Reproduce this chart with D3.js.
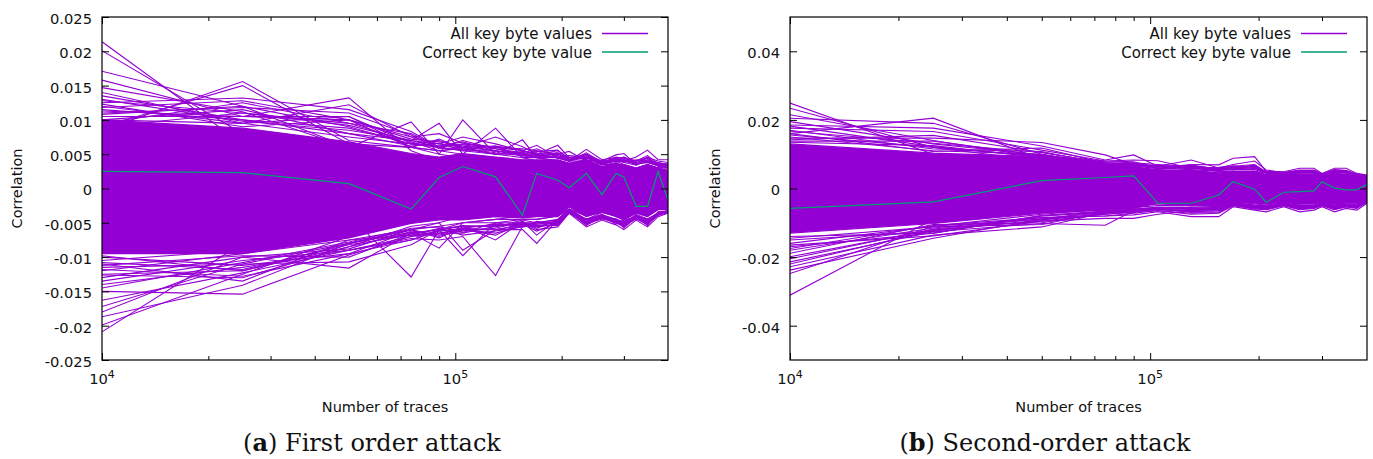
<!DOCTYPE html>
<html>
<head>
<meta charset="utf-8">
<script src="https://cdn.jsdelivr.net/npm/d3@7"></script>
<style>
  body { margin: 0; background: #fff; }
  svg text { font-family: "DejaVu Sans", sans-serif; fill: #111; }
</style>
</head>
<body>
<svg id="fig" width="1373" height="459"></svg>
<script>
// Number of traces at which the correlation was evaluated
const traceCounts = [10000, 25000, 50000, 75000, 90000, 105000, 130000, 155000, 170000, 195000,
                     210000, 235000, 260000, 285000, 300000, 325000, 350000, 375000, 400000];

// ---------- (a) first order attack ----------
// upper / lower edge of the dense bundle of key guesses
const firstDenseHigh = [0.0100, 0.0088, 0.0068, 0.0051, 0.0046, 0.0051, 0.0046, 0.0042, 0.0042, 0.0042,
                        0.0037, 0.0042, 0.0032, 0.0037, 0.0034, 0.0029, 0.0034, 0.0029, 0.0027];
const firstDenseLow  = [-0.0095, -0.0095, -0.0072, -0.0051, -0.0046, -0.0046, -0.0041, -0.0043, -0.0041, -0.0041,
                        -0.0027, -0.0041, -0.0034, -0.0041, -0.0046, -0.0036, -0.0041, -0.0031, -0.0031];
// key guesses that leave the bundle
const firstKeyCurves = [
  [0.0214, 0.0065, 0.0045, 0.0030, 0.0025, 0.0030, 0.0020, 0.0025, 0.0020, 0.0015, 0.0020, 0.0015, 0.0020, 0.0015, 0.0010, 0.0020, 0.0015, 0.0010, 0.0015],
  [0.0201, 0.0080, 0.0050, 0.0040, 0.0030, 0.0020, 0.0030, 0.0020, 0.0025, 0.0030, 0.0020, 0.0025, 0.0020, 0.0020, 0.0025, 0.0020, 0.0020, 0.0015, 0.0020],
  [0.0171, 0.0120, 0.0060, 0.0045, 0.0030, 0.0040, 0.0030, 0.0030, 0.0025, 0.0020, 0.0025, 0.0020, 0.0025, 0.0030, 0.0020, 0.0025, 0.0020, 0.0020, 0.0020],
  [0.0158, 0.0105, 0.0132, 0.0055, 0.0040, 0.0035, 0.0040, 0.0030, 0.0035, 0.0030, 0.0025, 0.0030, 0.0025, 0.0020, 0.0030, 0.0020, 0.0025, 0.0020, 0.0020],
  [0.0147, 0.0112, 0.0060, 0.0097, 0.0050, 0.0045, 0.0035, 0.0040, 0.0030, 0.0035, 0.0030, 0.0030, 0.0025, 0.0030, 0.0025, 0.0020, 0.0030, 0.0025, 0.0020],
  [0.0130, 0.0098, 0.0085, 0.0070, 0.0095, 0.0050, 0.0045, 0.0035, 0.0040, 0.0030, 0.0035, 0.0030, 0.0025, 0.0030, 0.0030, 0.0025, 0.0030, 0.0020, 0.0025],
  [0.0085, 0.0156, 0.0070, 0.0060, 0.0050, 0.0100, 0.0050, 0.0045, 0.0040, 0.0035, 0.0035, 0.0035, 0.0030, 0.0030, 0.0035, 0.0025, 0.0030, 0.0025, 0.0025],
  [0.0090, 0.0150, 0.0065, 0.0060, 0.0055, 0.0050, 0.0088, 0.0045, 0.0045, 0.0040, 0.0035, 0.0035, 0.0030, 0.0035, 0.0030, 0.0030, 0.0030, 0.0025, 0.0025],
  [0.0125, 0.0132, 0.0115, 0.0083, 0.0060, 0.0055, 0.0050, 0.0071, 0.0045, 0.0040, 0.0035, 0.0040, 0.0030, 0.0035, 0.0030, 0.0030, 0.0035, 0.0030, 0.0025],
  [0.0120, 0.0095, 0.0122, 0.0075, 0.0080, 0.0066, 0.0060, 0.0055, 0.0063, 0.0045, 0.0040, 0.0040, 0.0035, 0.0035, 0.0035, 0.0030, 0.0035, 0.0030, 0.0030],
  [0.0113, 0.0105, 0.0105, 0.0060, 0.0055, 0.0060, 0.0075, 0.0061, 0.0050, 0.0063, 0.0045, 0.0045, 0.0035, 0.0040, 0.0035, 0.0030, 0.0035, 0.0030, 0.0030],
  [0.0108, 0.0120, 0.0090, 0.0065, 0.0060, 0.0055, 0.0055, 0.0050, 0.0055, 0.0050, 0.0054, 0.0040, 0.0040, 0.0049, 0.0051, 0.0035, 0.0040, 0.0035, 0.0030],
  [0.0100, 0.0115, 0.0080, 0.0070, 0.0065, 0.0060, 0.0050, 0.0050, 0.0050, 0.0045, 0.0040, 0.0057, 0.0042, 0.0045, 0.0040, 0.0046, 0.0056, 0.0042, 0.0042],
  [0.0105, 0.0105, 0.0100, 0.0075, 0.0065, 0.0075, 0.0065, 0.0055, 0.0050, 0.0055, 0.0045, 0.0050, 0.0040, 0.0040, 0.0045, 0.0040, 0.0045, 0.0040, 0.0038],
  [0.0140, 0.0095, 0.0075, 0.0065, 0.0070, 0.0060, 0.0055, 0.0050, 0.0045, 0.0045, 0.0045, 0.0045, 0.0038, 0.0042, 0.0040, 0.0038, 0.0040, 0.0038, 0.0035],
  [0.0095, 0.0125, 0.0095, 0.0080, 0.0060, 0.0065, 0.0060, 0.0058, 0.0055, 0.0050, 0.0042, 0.0048, 0.0038, 0.0045, 0.0045, 0.0040, 0.0048, 0.0036, 0.0036],
  [0.0128, 0.0110, 0.0095, 0.0068, 0.0055, 0.0058, 0.0052, 0.0048, 0.0046, 0.0048, 0.0040, 0.0046, 0.0036, 0.0042, 0.0038, 0.0034, 0.0040, 0.0034, 0.0032],
  [0.0118, 0.0128, 0.0100, 0.0072, 0.0068, 0.0062, 0.0058, 0.0052, 0.0058, 0.0046, 0.0044, 0.0044, 0.0040, 0.0040, 0.0042, 0.0036, 0.0038, 0.0033, 0.0031],
  [0.0135, 0.0100, 0.0088, 0.0065, 0.0062, 0.0068, 0.0055, 0.0048, 0.0050, 0.0052, 0.0042, 0.0048, 0.0036, 0.0044, 0.0040, 0.0035, 0.0042, 0.0035, 0.0033],
  [0.0110, 0.0118, 0.0110, 0.0078, 0.0058, 0.0060, 0.0062, 0.0056, 0.0048, 0.0050, 0.0046, 0.0042, 0.0038, 0.0046, 0.0044, 0.0038, 0.0044, 0.0036, 0.0034],
  [0.0123, 0.0090, 0.0100, 0.0060, 0.0072, 0.0058, 0.0050, 0.0054, 0.0052, 0.0044, 0.0040, 0.0050, 0.0036, 0.0040, 0.0046, 0.0034, 0.0046, 0.0032, 0.0032],
  [0.0090, 0.0110, 0.0092, 0.0070, 0.0060, 0.0070, 0.0058, 0.0050, 0.0054, 0.0056, 0.0042, 0.0044, 0.0040, 0.0042, 0.0038, 0.0042, 0.0040, 0.0038, 0.0034],
  [0.0115, 0.0100, 0.0080, 0.0062, 0.0066, 0.0056, 0.0062, 0.0046, 0.0048, 0.0046, 0.0048, 0.0046, 0.0034, 0.0038, 0.0042, 0.0036, 0.0038, 0.0034, 0.0030],
  [0.0100, 0.0095, 0.0105, 0.0066, 0.0062, 0.0064, 0.0054, 0.0052, 0.0046, 0.0052, 0.0040, 0.0052, 0.0038, 0.0040, 0.0040, 0.0040, 0.0044, 0.0035, 0.0033],
  [-0.0209, -0.0080, -0.0060, -0.0045, -0.0040, -0.0035, -0.0030, -0.0030, -0.0025, -0.0030, -0.0020, -0.0025, -0.0020, -0.0025, -0.0030, -0.0020, -0.0025, -0.0020, -0.0020],
  [-0.0199, -0.0125, -0.0070, -0.0050, -0.0040, -0.0045, -0.0035, -0.0030, -0.0035, -0.0030, -0.0020, -0.0030, -0.0025, -0.0030, -0.0025, -0.0025, -0.0030, -0.0020, -0.0020],
  [-0.0187, -0.0141, -0.0080, -0.0060, -0.0050, -0.0040, -0.0040, -0.0035, -0.0030, -0.0030, -0.0025, -0.0030, -0.0025, -0.0030, -0.0030, -0.0025, -0.0030, -0.0025, -0.0025],
  [-0.0180, -0.0100, -0.0116, -0.0065, -0.0087, -0.0050, -0.0045, -0.0040, -0.0040, -0.0035, -0.0025, -0.0035, -0.0030, -0.0035, -0.0035, -0.0030, -0.0035, -0.0025, -0.0025],
  [-0.0172, -0.0110, -0.0107, -0.0082, -0.0060, -0.0098, -0.0050, -0.0045, -0.0045, -0.0040, -0.0030, -0.0040, -0.0030, -0.0035, -0.0035, -0.0030, -0.0035, -0.0030, -0.0025],
  [-0.0163, -0.0123, -0.0090, -0.0073, -0.0075, -0.0070, -0.0127, -0.0055, -0.0050, -0.0045, -0.0030, -0.0040, -0.0035, -0.0040, -0.0040, -0.0035, -0.0040, -0.0030, -0.0030],
  [-0.0150, -0.0154, -0.0097, -0.0070, -0.0065, -0.0060, -0.0060, -0.0060, -0.0080, -0.0045, -0.0030, -0.0045, -0.0035, -0.0040, -0.0040, -0.0035, -0.0040, -0.0030, -0.0030],
  [-0.0126, -0.0130, -0.0085, -0.0065, -0.0060, -0.0055, -0.0055, -0.0050, -0.0060, -0.0056, -0.0036, -0.0056, -0.0046, -0.0053, -0.0060, -0.0046, -0.0056, -0.0041, -0.0036],
  [-0.0115, -0.0110, -0.0080, -0.0060, -0.0055, -0.0050, -0.0050, -0.0050, -0.0050, -0.0050, -0.0033, -0.0050, -0.0040, -0.0048, -0.0052, -0.0042, -0.0050, -0.0038, -0.0034],
  [-0.0105, -0.0090, -0.0039, -0.0129, -0.0060, -0.0050, -0.0045, -0.0045, -0.0045, -0.0040, -0.0030, -0.0045, -0.0038, -0.0045, -0.0048, -0.0040, -0.0045, -0.0035, -0.0033],
  [-0.0098, -0.0120, -0.0085, -0.0055, -0.0050, -0.0090, -0.0060, -0.0052, -0.0055, -0.0048, -0.0035, -0.0048, -0.0042, -0.0050, -0.0055, -0.0044, -0.0052, -0.0038, -0.0034],
  [-0.0120, -0.0095, -0.0075, -0.0060, -0.0070, -0.0060, -0.0065, -0.0055, -0.0052, -0.0050, -0.0034, -0.0052, -0.0044, -0.0050, -0.0056, -0.0043, -0.0050, -0.0039, -0.0035],
  [-0.0135, -0.0105, -0.0090, -0.0075, -0.0060, -0.0055, -0.0075, -0.0048, -0.0068, -0.0045, -0.0032, -0.0046, -0.0040, -0.0046, -0.0050, -0.0040, -0.0046, -0.0036, -0.0033],
  [-0.0110, -0.0135, -0.0075, -0.0068, -0.0065, -0.0065, -0.0055, -0.0050, -0.0055, -0.0052, -0.0034, -0.0050, -0.0042, -0.0048, -0.0054, -0.0042, -0.0048, -0.0038, -0.0034],
  [-0.0140, -0.0115, -0.0090, -0.0070, -0.0062, -0.0058, -0.0052, -0.0054, -0.0050, -0.0048, -0.0034, -0.0048, -0.0040, -0.0048, -0.0050, -0.0040, -0.0048, -0.0036, -0.0034],
  [-0.0118, -0.0128, -0.0095, -0.0062, -0.0068, -0.0062, -0.0058, -0.0048, -0.0058, -0.0046, -0.0036, -0.0046, -0.0044, -0.0046, -0.0052, -0.0044, -0.0046, -0.0038, -0.0035],
  [-0.0108, -0.0118, -0.0082, -0.0068, -0.0058, -0.0068, -0.0062, -0.0056, -0.0048, -0.0052, -0.0032, -0.0052, -0.0038, -0.0050, -0.0048, -0.0040, -0.0052, -0.0035, -0.0033],
  [-0.0130, -0.0100, -0.0088, -0.0060, -0.0072, -0.0056, -0.0054, -0.0052, -0.0062, -0.0050, -0.0035, -0.0044, -0.0042, -0.0044, -0.0054, -0.0038, -0.0044, -0.0037, -0.0034],
  [-0.0100, -0.0112, -0.0095, -0.0075, -0.0062, -0.0060, -0.0068, -0.0050, -0.0052, -0.0048, -0.0033, -0.0054, -0.0040, -0.0052, -0.0046, -0.0042, -0.0054, -0.0034, -0.0033],
  [-0.0145, -0.0108, -0.0078, -0.0058, -0.0056, -0.0064, -0.0050, -0.0056, -0.0054, -0.0054, -0.0034, -0.0050, -0.0044, -0.0044, -0.0058, -0.0041, -0.0050, -0.0036, -0.0035],
  [-0.0112, -0.0098, -0.0100, -0.0066, -0.0060, -0.0054, -0.0056, -0.0046, -0.0050, -0.0046, -0.0031, -0.0046, -0.0038, -0.0048, -0.0050, -0.0038, -0.0048, -0.0037, -0.0032],
  [-0.0125, -0.0120, -0.0080, -0.0064, -0.0066, -0.0058, -0.0060, -0.0054, -0.0056, -0.0052, -0.0035, -0.0052, -0.0042, -0.0050, -0.0052, -0.0044, -0.0052, -0.0039, -0.0034]
];
const firstCorrectKey = [0.0025, 0.0023, 0.0007, -0.0030, 0.0016, 0.0032, 0.0017, -0.0039, 0.0022, 0.0012,
                         0.0001, 0.0022, -0.0009, 0.0022, 0.0017, -0.0026, -0.0026, 0.0025, -0.0017];
const firstTickValues = [-0.025, -0.02, -0.015, -0.01, -0.005, 0, 0.005, 0.01, 0.015, 0.02, 0.025];
const firstTickLabels = ["-0.025", "-0.02", "-0.015", "-0.01", "-0.005", "0", "0.005", "0.01", "0.015", "0.02", "0.025"];

// ---------- (b) second-order attack ----------
const secondDenseHigh = [0.0130, 0.0103, 0.0093, 0.0069, 0.0064, 0.0054, 0.0054, 0.0045, 0.0050, 0.0050,
                         0.0040, 0.0040, 0.0042, 0.0042, 0.0036, 0.0042, 0.0042, 0.0036, 0.0034];
const secondDenseLow  = [-0.0130, -0.0102, -0.0072, -0.0063, -0.0058, -0.0043, -0.0050, -0.0050, -0.0040, -0.0043,
                         -0.0045, -0.0040, -0.0045, -0.0043, -0.0040, -0.0045, -0.0042, -0.0042, -0.0036];
const secondKeyCurves = [
  [0.0249, 0.0100, 0.0070, 0.0050, 0.0040, 0.0030, 0.0035, 0.0030, 0.0025, 0.0030, 0.0025, 0.0020, 0.0025, 0.0020, 0.0020, 0.0025, 0.0020, 0.0020, 0.0020],
  [0.0234, 0.0120, 0.0080, 0.0060, 0.0050, 0.0040, 0.0040, 0.0035, 0.0030, 0.0035, 0.0030, 0.0025, 0.0030, 0.0025, 0.0025, 0.0030, 0.0025, 0.0025, 0.0020],
  [0.0215, 0.0140, 0.0090, 0.0065, 0.0055, 0.0045, 0.0045, 0.0040, 0.0035, 0.0040, 0.0030, 0.0030, 0.0035, 0.0030, 0.0030, 0.0030, 0.0030, 0.0025, 0.0025],
  [0.0205, 0.0190, 0.0100, 0.0070, 0.0060, 0.0050, 0.0050, 0.0045, 0.0040, 0.0045, 0.0035, 0.0035, 0.0035, 0.0035, 0.0030, 0.0035, 0.0035, 0.0030, 0.0028],
  [0.0160, 0.0205, 0.0085, 0.0075, 0.0060, 0.0055, 0.0050, 0.0045, 0.0045, 0.0045, 0.0040, 0.0035, 0.0040, 0.0040, 0.0035, 0.0040, 0.0035, 0.0030, 0.0030],
  [0.0147, 0.0147, 0.0134, 0.0098, 0.0070, 0.0060, 0.0055, 0.0050, 0.0045, 0.0050, 0.0040, 0.0040, 0.0040, 0.0040, 0.0035, 0.0040, 0.0040, 0.0035, 0.0030],
  [0.0185, 0.0176, 0.0124, 0.0083, 0.0098, 0.0065, 0.0060, 0.0050, 0.0050, 0.0050, 0.0045, 0.0040, 0.0045, 0.0045, 0.0038, 0.0045, 0.0040, 0.0035, 0.0032],
  [0.0176, 0.0166, 0.0112, 0.0080, 0.0083, 0.0081, 0.0060, 0.0055, 0.0055, 0.0055, 0.0045, 0.0045, 0.0045, 0.0045, 0.0040, 0.0045, 0.0045, 0.0038, 0.0034],
  [0.0167, 0.0132, 0.0105, 0.0075, 0.0070, 0.0065, 0.0083, 0.0060, 0.0060, 0.0060, 0.0048, 0.0045, 0.0050, 0.0050, 0.0040, 0.0050, 0.0045, 0.0040, 0.0034],
  [0.0156, 0.0120, 0.0095, 0.0072, 0.0068, 0.0060, 0.0070, 0.0069, 0.0088, 0.0093, 0.0050, 0.0049, 0.0059, 0.0059, 0.0044, 0.0059, 0.0059, 0.0044, 0.0039],
  [0.0150, 0.0110, 0.0100, 0.0070, 0.0065, 0.0065, 0.0060, 0.0060, 0.0070, 0.0080, 0.0054, 0.0046, 0.0052, 0.0054, 0.0042, 0.0055, 0.0052, 0.0041, 0.0037],
  [0.0135, 0.0125, 0.0090, 0.0078, 0.0075, 0.0070, 0.0065, 0.0058, 0.0065, 0.0070, 0.0048, 0.0044, 0.0050, 0.0050, 0.0040, 0.0050, 0.0050, 0.0040, 0.0036],
  [0.0195, 0.0130, 0.0098, 0.0072, 0.0066, 0.0058, 0.0062, 0.0052, 0.0056, 0.0058, 0.0046, 0.0042, 0.0048, 0.0046, 0.0038, 0.0046, 0.0048, 0.0038, 0.0035],
  [0.0142, 0.0155, 0.0105, 0.0075, 0.0072, 0.0062, 0.0058, 0.0056, 0.0062, 0.0064, 0.0044, 0.0044, 0.0046, 0.0048, 0.0040, 0.0048, 0.0046, 0.0040, 0.0036],
  [0.0170, 0.0115, 0.0108, 0.0070, 0.0068, 0.0066, 0.0064, 0.0054, 0.0058, 0.0062, 0.0048, 0.0043, 0.0050, 0.0052, 0.0039, 0.0052, 0.0050, 0.0039, 0.0035],
  [0.0138, 0.0138, 0.0096, 0.0080, 0.0078, 0.0060, 0.0068, 0.0056, 0.0054, 0.0066, 0.0046, 0.0045, 0.0048, 0.0050, 0.0041, 0.0050, 0.0048, 0.0041, 0.0036],
  [0.0160, 0.0108, 0.0118, 0.0074, 0.0070, 0.0068, 0.0060, 0.0062, 0.0066, 0.0060, 0.0050, 0.0047, 0.0054, 0.0052, 0.0042, 0.0054, 0.0052, 0.0042, 0.0037],
  [0.0182, 0.0122, 0.0092, 0.0068, 0.0074, 0.0064, 0.0066, 0.0058, 0.0060, 0.0068, 0.0046, 0.0042, 0.0046, 0.0050, 0.0040, 0.0046, 0.0050, 0.0039, 0.0035],
  [-0.0311, -0.0090, -0.0070, -0.0055, -0.0045, -0.0040, -0.0045, -0.0040, -0.0030, -0.0035, -0.0035, -0.0030, -0.0035, -0.0035, -0.0030, -0.0035, -0.0030, -0.0030, -0.0025],
  [-0.0248, -0.0110, -0.0075, -0.0060, -0.0050, -0.0045, -0.0050, -0.0045, -0.0035, -0.0040, -0.0040, -0.0035, -0.0040, -0.0040, -0.0035, -0.0040, -0.0035, -0.0035, -0.0030],
  [-0.0238, -0.0145, -0.0090, -0.0065, -0.0055, -0.0050, -0.0050, -0.0050, -0.0038, -0.0045, -0.0042, -0.0038, -0.0042, -0.0042, -0.0038, -0.0042, -0.0038, -0.0038, -0.0032],
  [-0.0228, -0.0136, -0.0112, -0.0070, -0.0060, -0.0055, -0.0055, -0.0052, -0.0040, -0.0048, -0.0045, -0.0040, -0.0045, -0.0045, -0.0040, -0.0045, -0.0040, -0.0040, -0.0034],
  [-0.0214, -0.0126, -0.0102, -0.0107, -0.0065, -0.0060, -0.0058, -0.0055, -0.0042, -0.0050, -0.0048, -0.0042, -0.0048, -0.0048, -0.0042, -0.0048, -0.0042, -0.0042, -0.0035],
  [-0.0199, -0.0120, -0.0095, -0.0087, -0.0087, -0.0075, -0.0065, -0.0060, -0.0045, -0.0052, -0.0050, -0.0045, -0.0050, -0.0050, -0.0045, -0.0050, -0.0045, -0.0045, -0.0036],
  [-0.0180, -0.0115, -0.0085, -0.0080, -0.0077, -0.0068, -0.0082, -0.0082, -0.0053, -0.0063, -0.0068, -0.0053, -0.0068, -0.0063, -0.0053, -0.0068, -0.0058, -0.0063, -0.0043],
  [-0.0160, -0.0110, -0.0090, -0.0075, -0.0070, -0.0065, -0.0075, -0.0072, -0.0050, -0.0058, -0.0062, -0.0050, -0.0062, -0.0058, -0.0050, -0.0062, -0.0054, -0.0058, -0.0040],
  [-0.0170, -0.0130, -0.0080, -0.0070, -0.0065, -0.0060, -0.0068, -0.0065, -0.0048, -0.0055, -0.0056, -0.0048, -0.0056, -0.0054, -0.0048, -0.0056, -0.0050, -0.0052, -0.0038],
  [-0.0189, -0.0105, -0.0100, -0.0072, -0.0062, -0.0058, -0.0060, -0.0060, -0.0046, -0.0050, -0.0052, -0.0046, -0.0052, -0.0050, -0.0046, -0.0052, -0.0048, -0.0048, -0.0037],
  [-0.0150, -0.0125, -0.0080, -0.0068, -0.0060, -0.0055, -0.0062, -0.0058, -0.0045, -0.0053, -0.0054, -0.0045, -0.0054, -0.0052, -0.0045, -0.0054, -0.0049, -0.0050, -0.0038],
  [-0.0205, -0.0118, -0.0088, -0.0070, -0.0064, -0.0056, -0.0058, -0.0056, -0.0044, -0.0050, -0.0050, -0.0044, -0.0050, -0.0048, -0.0044, -0.0050, -0.0046, -0.0046, -0.0037],
  [-0.0165, -0.0138, -0.0095, -0.0075, -0.0068, -0.0062, -0.0064, -0.0062, -0.0047, -0.0056, -0.0058, -0.0047, -0.0058, -0.0055, -0.0047, -0.0058, -0.0052, -0.0054, -0.0039],
  [-0.0145, -0.0112, -0.0105, -0.0068, -0.0066, -0.0058, -0.0070, -0.0068, -0.0049, -0.0060, -0.0060, -0.0049, -0.0060, -0.0056, -0.0049, -0.0060, -0.0052, -0.0056, -0.0039],
  [-0.0175, -0.0108, -0.0085, -0.0080, -0.0072, -0.0064, -0.0072, -0.0070, -0.0048, -0.0056, -0.0060, -0.0048, -0.0058, -0.0056, -0.0048, -0.0060, -0.0052, -0.0056, -0.0040],
  [-0.0220, -0.0122, -0.0092, -0.0072, -0.0068, -0.0060, -0.0066, -0.0064, -0.0046, -0.0054, -0.0056, -0.0046, -0.0056, -0.0052, -0.0046, -0.0056, -0.0050, -0.0052, -0.0038],
  [-0.0140, -0.0130, -0.0078, -0.0066, -0.0062, -0.0056, -0.0060, -0.0058, -0.0044, -0.0052, -0.0052, -0.0044, -0.0052, -0.0050, -0.0044, -0.0052, -0.0047, -0.0049, -0.0037]
];
const secondCorrectKey = [-0.0058, -0.0039, 0.0023, 0.0032, 0.0037, -0.0043, -0.0043, -0.0019, 0.0020, -0.0002,
                          -0.0040, -0.0011, -0.0009, -0.0007, 0.0020, 0.0001, -0.0004, -0.0004, 0.0012];
const secondTickValues = [-0.04, -0.02, 0, 0.02, 0.04];
const secondTickLabels = ["-0.04", "-0.02", "0", "0.02", "0.04"];

// shared x axis ticks (log scale)
const xMajorTicks = [10000, 100000];
const xMajorExponents = ["4", "5"];
const xMinorTicks = [20000, 30000, 40000, 50000, 60000, 70000, 80000, 90000, 200000, 300000];
const legendLabels = ["All key byte values", "Correct key byte value"];

const PURPLE = "#9400d3";
const GREEN = "#009e73";
const svg = d3.select("#fig");

function drawPanel(cfg) {
  const x = d3.scaleLog().domain([10000, 400000]).range([cfg.left, cfg.right]);
  const y = d3.scaleLinear().domain(cfg.yDomain).range([cfg.bottom, cfg.top]);
  const g = svg.append("g");

  g.append("clipPath").attr("id", cfg.id)
    .append("rect")
    .attr("x", cfg.left).attr("y", cfg.top)
    .attr("width", cfg.right - cfg.left).attr("height", cfg.bottom - cfg.top);

  const plot = g.append("g").attr("clip-path", `url(#${cfg.id})`);
  const xi = (d, i) => x(traceCounts[i]);

  // dense bundle of key guesses
  const band = d3.area().x(xi).y0((d, i) => y(cfg.low[i])).y1(d => y(d));
  plot.append("path").datum(cfg.high).attr("d", band).attr("fill", PURPLE);

  const line = d3.line().x(xi).y(d => y(d));
  plot.selectAll("path.guess")
    .data([cfg.high, cfg.low, ...cfg.curves])
    .join("path")
    .attr("class", "guess")
    .attr("d", line)
    .attr("fill", "none")
    .attr("stroke", PURPLE)
    .attr("stroke-width", 1.1)
    .attr("stroke-linejoin", "miter");

  plot.append("path").datum(cfg.correct)
    .attr("d", line)
    .attr("fill", "none")
    .attr("stroke", GREEN)
    .attr("stroke-width", 1.2);

  // y axis (left with labels, right mirrored)
  const yl = g.append("g").attr("transform", `translate(${cfg.left},0)`)
    .call(d3.axisLeft(y).tickValues(cfg.tickValues).tickFormat((d, i) => cfg.tickLabels[i])
      .tickSizeInner(-7).tickSizeOuter(0).tickPadding(10));
  g.append("g").attr("transform", `translate(${cfg.right},0)`)
    .call(d3.axisRight(y).tickValues(cfg.tickValues).tickFormat(() => "")
      .tickSizeInner(-7).tickSizeOuter(0));

  // x axis, major and minor, bottom and top
  [[d3.axisBottom, cfg.bottom], [d3.axisTop, cfg.top]].forEach(([ax, pos]) => {
    g.append("g").attr("transform", `translate(0,${pos})`)
      .call(ax(x).tickValues(xMajorTicks).tickFormat(() => "").tickSizeInner(-7).tickSizeOuter(0));
    g.append("g").attr("transform", `translate(0,${pos})`)
      .call(ax(x).tickValues(xMinorTicks).tickFormat(() => "").tickSizeInner(-4).tickSizeOuter(0));
  });

  g.selectAll(".domain").remove();
  g.selectAll(".tick line").attr("stroke", "#000").attr("stroke-width", 1);
  yl.selectAll(".tick text")
    .attr("font-family", "DejaVu Sans, sans-serif")
    .attr("font-size", 14.7)
    .attr("dy", "0.44em")
    .attr("fill", "#111");

  // x tick labels as powers of ten
  xMajorTicks.forEach((v, i) => {
    const t = g.append("text")
      .attr("x", x(v)).attr("y", cfg.bottom + 24)
      .attr("text-anchor", "middle")
      .attr("font-size", 14.7);
    t.append("tspan").text("10");
    t.append("tspan").attr("dy", -6).attr("font-size", 11).text(xMajorExponents[i]);
  });

  // frame
  g.append("rect")
    .attr("x", cfg.left).attr("y", cfg.top)
    .attr("width", cfg.right - cfg.left).attr("height", cfg.bottom - cfg.top)
    .attr("fill", "none").attr("stroke", "#000").attr("stroke-width", 1.2);

  // axis titles
  g.append("text")
    .attr("transform", `translate(${cfg.yTitleX},${(cfg.top + cfg.bottom) / 2}) rotate(-90)`)
    .attr("text-anchor", "middle").attr("dy", "0.35em")
    .attr("font-size", 14.5)
    .text("Correlation");
  g.append("text")
    .attr("x", (cfg.left + cfg.right) / 2).attr("y", cfg.bottom + 52)
    .attr("text-anchor", "middle")
    .attr("font-size", 14.5)
    .text("Number of traces");

  // legend
  [PURPLE, GREEN].forEach((c, i) => {
    const yy = cfg.top + 16.5 + i * 18.5;
    g.append("text")
      .attr("x", cfg.right - 76).attr("y", yy + 5.5)
      .attr("text-anchor", "end").attr("font-size", 15)
      .text(legendLabels[i]);
    g.append("line")
      .attr("x1", cfg.right - 66).attr("x2", cfg.right - 20)
      .attr("y1", yy).attr("y2", yy)
      .attr("stroke", c).attr("stroke-width", 1.3);
  });

  // sub-figure caption
  const cap = g.append("text")
    .attr("x", cfg.captionX).attr("y", 451)
    .attr("text-anchor", "middle")
    .attr("font-size", 24)
    .style("font-family", "'DejaVu Serif', serif");
  cap.append("tspan").text("(");
  cap.append("tspan").attr("font-weight", "bold").text(cfg.captionTag);
  cap.append("tspan").text(") " + cfg.caption);
}

drawPanel({
  id: "clipFirst", left: 102, right: 668, top: 17, bottom: 360, yTitleX: 17,
  yDomain: [-0.025, 0.025], tickValues: firstTickValues, tickLabels: firstTickLabels,
  high: firstDenseHigh, low: firstDenseLow, curves: firstKeyCurves, correct: firstCorrectKey,
  captionX: 372, captionTag: "a", caption: "First order attack"
});
drawPanel({
  id: "clipSecond", left: 790, right: 1367, top: 17, bottom: 360, yTitleX: 715,
  yDomain: [-0.05, 0.05], tickValues: secondTickValues, tickLabels: secondTickLabels,
  high: secondDenseHigh, low: secondDenseLow, curves: secondKeyCurves, correct: secondCorrectKey,
  captionX: 1045, captionTag: "b", caption: "Second-order attack"
});
</script>
</body>
</html>
